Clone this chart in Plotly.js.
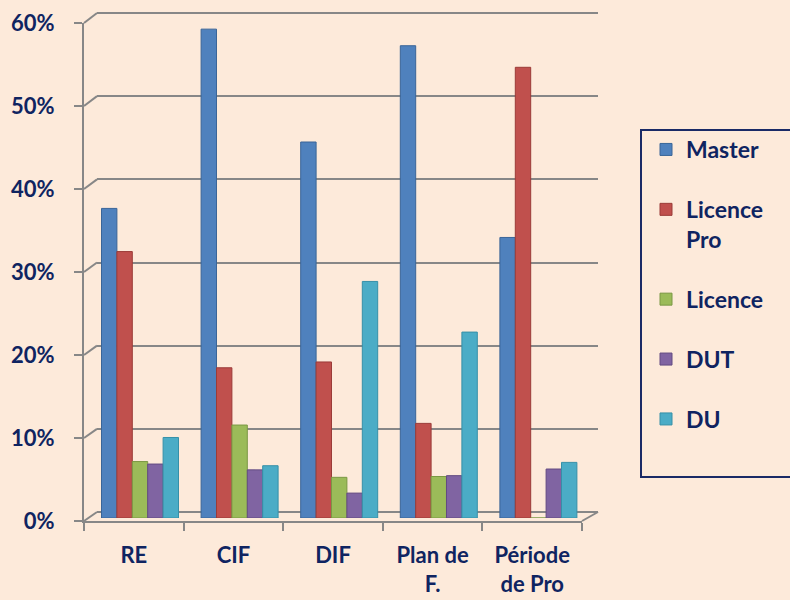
<!DOCTYPE html>
<html>
<head>
<meta charset="utf-8">
<script src="https://cdn.plot.ly/plotly-3.0.1.min.js"></script>
<style>
  html, body { margin: 0; padding: 0; background: #FDEADA; }
  #chart { width: 790px; height: 600px; }
</style>
</head>
<body>
<div id="chart"></div>
<script>
// ---- data ----
const categories = ["RE", "CIF", "DIF", "Plan de<br>F.", "Période<br>de Pro"];
const seriesNames = ["Master", "Licence<br>Pro", "Licence", "DUT", "DU"];
const master     = [0.373, 0.589, 0.453, 0.569, 0.338];
const licencePro = [0.321, 0.181, 0.188, 0.114, 0.543];
const licence    = [0.068, 0.112, 0.049, 0.050, 0.000];
const dut        = [0.065, 0.058, 0.030, 0.051, 0.059];
const du         = [0.097, 0.063, 0.285, 0.224, 0.067];
const yTickVals  = [0, 0.1, 0.2, 0.3, 0.4, 0.5, 0.6];

const seriesValues = [master, licencePro, licence, dut, du];
const colors = ["#4F81BD", "#C0504D", "#9BBB59", "#8064A2", "#4BACC6"];
const edges  = ["#3A6598", "#9B3B38", "#7A9844", "#634B82", "#3690A8"];

// ---- geometry (pixels) ----
const W = 790, H = 600;
const px = p => p / W;
const py = p => 1 - p / H;
const TXT = "#0F2461";
const GRID = "#878787";
const FONT = "Lato, 'Open Sans', sans-serif";

// back wall
const BX0 = 97, BX1 = 598, BY0 = 512, BY6 = 13;
// bars (mid depth)
const MX0 = 90.2, MX1 = 588.2, MY0 = 518, MY6 = 20;
// front axes
const FX0 = 84, FX1 = 582, FY0 = 521, FY6 = 23;
const VMAX = 0.6;

function yDomain(y0pix, y6pix, r0, r1) {
  const s = (y0pix - y6pix) / VMAX;
  const bottom = y0pix - r0 * s;
  const top = y0pix - r1 * s;
  return [py(bottom), py(top)];
}

const traces = seriesValues.map((vals, i) => ({
  type: "bar",
  name: seriesNames[i],
  x: categories,
  y: vals,
  xaxis: "x2",
  yaxis: "y2",
  legendgroup: "g" + i,
  marker: { color: colors[i], line: { color: edges[i], width: 1 } },
  hovertemplate: "%{y:.1%}<extra>" + seriesNames[i].replace("<br>", " ") + "</extra>"
}));

// empty helper traces so the back-wall and front-axis subplots exist
traces.unshift({ type: "scatter", x: [], y: [], xaxis: "x", yaxis: "y", showlegend: false, hoverinfo: "skip" });
traces.push({ type: "scatter", x: categories, y: categories.map(() => null), xaxis: "x3", yaxis: "y3", showlegend: false, hoverinfo: "skip", mode: "markers" });

// diagonal depth connectors (from front ticks to back grid lines)
const shapes = [];
yTickVals.forEach(v => {
  const fy = FY0 + (FY6 - FY0) * v / VMAX;
  const by = BY0 + (BY6 - BY0) * v / VMAX;
  shapes.push({ type: "line", xref: "paper", yref: "paper",
    x0: px(FX0), y0: py(fy), x1: px(BX0), y1: py(by),
    line: { color: GRID, width: 2 }, layer: "below" });
});
shapes.push({ type: "line", xref: "paper", yref: "paper",
  x0: px(FX1), y0: py(FY0), x1: px(BX1), y1: py(BY0),
  line: { color: GRID, width: 2 }, layer: "below" });
// legend frame
shapes.push({ type: "rect", xref: "paper", yref: "paper",
  x0: px(641), y0: py(130), x1: px(800), y1: py(477),
  line: { color: "#1A2A66", width: 2 }, fillcolor: "rgba(0,0,0,0)" });

const backR = [-0.003, 0.603];

const layout = {
  width: W, height: H,
  margin: { l: 0, r: 0, t: 0, b: 0 },
  paper_bgcolor: "#FDEADA",
  plot_bgcolor: "rgba(0,0,0,0)",
  font: { family: FONT, size: 22, color: TXT, weight: 700 },
  barmode: "group",
  bargap: 0.227,
  bargroupgap: 0,
  showlegend: true,
  legend: {
    x: px(646), y: py(128), xanchor: "left", yanchor: "top",
    traceorder: "grouped", tracegroupgap: 27, valign: "top",
    bgcolor: "rgba(0,0,0,0)", borderwidth: 0,
    font: { family: FONT, size: 23, color: TXT, weight: 700 }
  },
  // back wall grid
  xaxis: { domain: [px(BX0), px(BX1)], range: [0, 1], visible: false, fixedrange: true },
  yaxis: {
    domain: yDomain(BY0, BY6, backR[0], backR[1]), range: backR, anchor: "x",
    tickvals: yTickVals, showticklabels: false, ticks: "",
    showgrid: true, gridcolor: GRID, gridwidth: 2, zeroline: false, showline: false, fixedrange: true
  },
  // bars
  xaxis2: { domain: [px(MX0), px(MX1)], anchor: "y2", type: "category",
    categoryorder: "array", categoryarray: categories, range: [-0.5, 4.5], visible: false, fixedrange: true },
  yaxis2: { domain: yDomain(MY0, MY6, 0, VMAX), range: [0, VMAX], anchor: "x2", visible: false, fixedrange: true },
  // front axes
  xaxis3: { domain: [px(FX0), px(FX1)], anchor: "y3", type: "category",
    categoryorder: "array", categoryarray: categories, range: [-0.5, 4.5],
    showline: true, linecolor: GRID, linewidth: 2,
    ticks: "outside", tickson: "boundaries", ticklen: 8, tickwidth: 2, tickcolor: GRID,
    showgrid: false, zeroline: false, ticklabelstandoff: 14, fixedrange: true,
    tickfont: { family: FONT, size: 22, color: TXT, weight: 700 } },
  yaxis3: { domain: yDomain(FY0, FY6, 0, VMAX), range: [0, VMAX], anchor: "x3",
    tickvals: yTickVals, tickformat: ".0%",
    showline: true, linecolor: GRID, linewidth: 2,
    ticks: "outside", ticklen: 8, tickwidth: 2, tickcolor: GRID,
    showgrid: false, zeroline: false, ticklabelstandoff: 15, fixedrange: true,
    tickfont: { family: FONT, size: 22, color: TXT, weight: 700 } },
  shapes: shapes
};

Plotly.newPlot("chart", traces, layout, { displayModeBar: false, staticPlot: true });
</script>
</body>
</html>
